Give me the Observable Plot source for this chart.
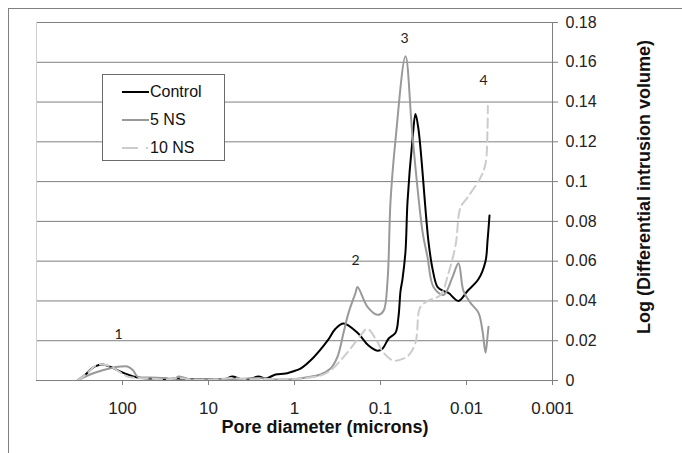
<!DOCTYPE html>
<html>
<head>
<meta charset="utf-8">
<script src="https://cdn.jsdelivr.net/npm/d3@7"></script>
<script src="https://cdn.jsdelivr.net/npm/@observablehq/plot@0.6"></script>
<style>
  body { margin: 0; background: #fff; font-family: "Liberation Sans", Arial, sans-serif; }
  #wrap { position: relative; width: 682px; height: 453px; overflow: hidden; background: #fff; }
  #wrap svg { position: absolute; left: 0; top: 0; }
  #frame { position: absolute; left: 8px; top: 8px; width: 700px; height: 470px;
           border-left: 1px solid #808080; border-top: 1px solid #808080; pointer-events: none; }
  .title { position: absolute; font-weight: bold; font-size: 18px; color: #111; white-space: nowrap; }
  #xtitle { left: 325px; top: 427px; transform: translate(-50%, -50%); }
  #ytitle { left: 644px; top: 187px; transform: translate(-50%, -50%) rotate(-90deg); }
  #legend { position: absolute; left: 102px; top: 74px; width: 121px; height: 85px;
            background: #fff; border: 1px solid #6a6a6a; font-size: 16px; color: #111; }
  #legend .item { position: absolute; left: 19px; height: 20px; display: flex; align-items: center; }
  #legend svg { position: static; }
</style>
</head>
<body>
<div id="wrap">
  <div id="frame"></div>
</div>
<script>
// ---- data: [pore diameter (microns), log differential intrusion volume] ----
const control = [
  [333.7, 0], [269, 0.003], [235.5, 0.0055], [206, 0.0072], [170.9, 0.008], [137.9, 0.0068],
  [105.5, 0.0045], [87.5, 0.003], [66.9, 0.0015], [47.2, 0.001], [31.6, 0.0008], [22.3, 0.001],
  [16.2, 0.0006], [12.4, 0.0005], [8.29, 0.0007], [6.34, 0.0008], [5.26, 0.002], [4.25, 0.0008],
  [3.25, 0.0009], [2.62, 0.002], [2.17, 0.001], [1.66, 0.003], [1.27, 0.0035], [0.974, 0.005],
  [0.852, 0.006], [0.601, 0.0116], [0.413, 0.020], [0.334, 0.026], [0.269, 0.0287], [0.185, 0.024],
  [0.1379, 0.0176], [0.1083, 0.015], [0.0948, 0.016], [0.0807, 0.021], [0.0669, 0.024],
  [0.0618, 0.032], [0.0585, 0.045], [0.0555, 0.051], [0.0512, 0.065], [0.0485, 0.09],
  [0.0425, 0.121], [0.0392, 0.134], [0.0361, 0.126], [0.0277, 0.07], [0.0248, 0.056],
  [0.0217, 0.047], [0.0185, 0.045], [0.0162, 0.044], [0.0124, 0.040], [0.00974, 0.045],
  [0.00725, 0.051], [0.00601, 0.060], [0.0057, 0.07], [0.0054, 0.083]
];
const ns5 = [
  [333.7, 0], [269, 0.002], [206, 0.004], [137.9, 0.0062], [105.5, 0.007], [87.5, 0.007],
  [75, 0.005], [66.9, 0.002], [47.2, 0.0015], [31.6, 0.0012], [25, 0.0005], [22.3, 0.002],
  [16.2, 0.0005], [12.4, 0.0005], [8.29, 0.0006], [4.25, 0.0008], [2.62, 0.0012], [1.66, 0.0005],
  [0.974, 0.0008], [0.745, 0.0015], [0.498, 0.003], [0.381, 0.006], [0.316, 0.012], [0.269, 0.024],
  [0.2355, 0.034], [0.1953, 0.044], [0.185, 0.047], [0.1416, 0.037], [0.1083, 0.033],
  [0.0923, 0.035], [0.0829, 0.05], [0.0765, 0.09], [0.0669, 0.121], [0.0512, 0.163],
  [0.0425, 0.123], [0.0325, 0.075], [0.0284, 0.062], [0.0242, 0.047], [0.0185, 0.043],
  [0.01455, 0.052], [0.0124, 0.059], [0.01084, 0.045], [0.00899, 0.039], [0.00725, 0.034],
  [0.00652, 0.025], [0.00601, 0.014], [0.0057, 0.022], [0.00555, 0.027]
];
const ns10 = [
  [333.7, 0], [269, 0.003], [206, 0.0075], [170.9, 0.008], [137.9, 0.007], [105.5, 0.004],
  [87.5, 0.002], [66.9, 0.0012], [47.2, 0.001], [31.6, 0.0005], [22.3, 0.0012], [16.2, 0.0005],
  [12.4, 0.0003], [8.29, 0.0006], [5.26, 0.0012], [3.25, 0.0006], [2.17, 0.0008], [1.27, 0.0005],
  [0.852, 0.001], [0.498, 0.0025], [0.381, 0.005], [0.292, 0.010], [0.2233, 0.016],
  [0.171, 0.0226], [0.1416, 0.026], [0.1143, 0.021], [0.0923, 0.014], [0.0706, 0.010],
  [0.054, 0.011], [0.0472, 0.0126], [0.0392, 0.019], [0.0361, 0.034], [0.0343, 0.037],
  [0.0284, 0.040], [0.0201, 0.043], [0.0162, 0.054], [0.0134, 0.068], [0.01174, 0.087],
  [0.00974, 0.092], [0.00687, 0.102], [0.00601, 0.109], [0.0057, 0.126], [0.00565, 0.138]
];
const seriesNames = ["Control", "5 NS", "10 NS"];
const xTicks = [100, 10, 1, 0.1, 0.01, 0.001];
const yTicks = [0, 0.02, 0.04, 0.06, 0.08, 0.1, 0.12, 0.14, 0.16, 0.18];
const peakLabels = [
  {label: "1", d: 111, v: 0.0232},
  {label: "2", d: 0.1953, v: 0.0604},
  {label: "3", d: 0.0526, v: 0.172},
  {label: "4", d: 0.00634, v: 0.151}
];
const xTitle = "Pore diameter (microns)";
const yTitle = "Log (Differential intrusion volume)";

// ---- styles ----
const styles = {
  "Control": {stroke: "#000000", dash: null, legendDash: null},
  "5 NS":    {stroke: "#999999", dash: null, legendDash: null},
  "10 NS":   {stroke: "#cccccc", dash: "9,5", legendDash: "16,8,2,10"}
};
const rawSeries = [control, ns5, ns10];
const rows = seriesNames.flatMap((s, i) => rawSeries[i].map(([d, v]) => ({series: s, d, v})));

const lines = seriesNames.map(s => Plot.line(rows.filter(r => r.series === s), {
  x: "d", y: "v", stroke: styles[s].stroke, strokeWidth: 2,
  strokeDasharray: styles[s].dash, curve: "catmull-rom", clip: true
}));

const chart = Plot.plot({
  width: 682, height: 453,
  marginLeft: 36, marginRight: 130, marginTop: 22, marginBottom: 73,
  style: {fontFamily: "'Liberation Sans', Arial, sans-serif", fontSize: "16px", color: "#222", background: "transparent"},
  x: {type: "log", domain: [1000, 0.001], axis: null},
  y: {domain: [0, 0.18], axis: null},
  marks: [
    Plot.gridY(yTicks, {stroke: "#7f7f7f", strokeOpacity: 1, strokeWidth: 1}),
    Plot.ruleX([1000], {stroke: "#cfcfcf", strokeWidth: 1}),
    Plot.ruleX([0.001], {stroke: "#7f7f7f", strokeWidth: 1}),
    Plot.ruleY([0], {stroke: "#7f7f7f", strokeWidth: 1}),
    Plot.axisX({ticks: xTicks, tickFormat: d => String(d), tickSize: 5, tickPadding: 16,
      stroke: "#7f7f7f", fill: "#222", fontSize: 17, anchor: "bottom", label: null}),
    Plot.axisY({ticks: yTicks, tickFormat: d => String(d), tickSize: 5, tickPadding: 8,
      stroke: "#7f7f7f", fill: "#222", fontSize: 16, anchor: "right", label: null}),
    ...lines,
    Plot.text(peakLabels, {x: "d", y: "v", text: "label", fill: "#222",
      fontSize: 14, fontFamily: "Lato, 'Open Sans', sans-serif"})
  ]
});

const wrap = document.getElementById("wrap");
wrap.insertBefore(chart, wrap.firstChild);

// titles
const xt = document.createElement("div");
xt.className = "title"; xt.id = "xtitle"; xt.textContent = xTitle; wrap.appendChild(xt);
const yt = document.createElement("div");
yt.className = "title"; yt.id = "ytitle"; yt.textContent = yTitle; wrap.appendChild(yt);

// legend
const legend = document.createElement("div");
legend.id = "legend";
seriesNames.forEach((s, i) => {
  const item = document.createElement("div");
  item.className = "item";
  item.style.top = (7 + i * 28) + "px";
  const sv = d3.create("svg").attr("width", 28).attr("height", 20);
  sv.append("line").attr("x1", 0).attr("x2", 27).attr("y1", 10).attr("y2", 10)
    .attr("stroke", styles[s].stroke).attr("stroke-width", 2)
    .attr("stroke-dasharray", styles[s].legendDash);
  item.appendChild(sv.node());
  const t = document.createElement("span");
  t.textContent = s;
  item.appendChild(t);
  legend.appendChild(item);
});
wrap.appendChild(legend);
</script>
</body>
</html>
